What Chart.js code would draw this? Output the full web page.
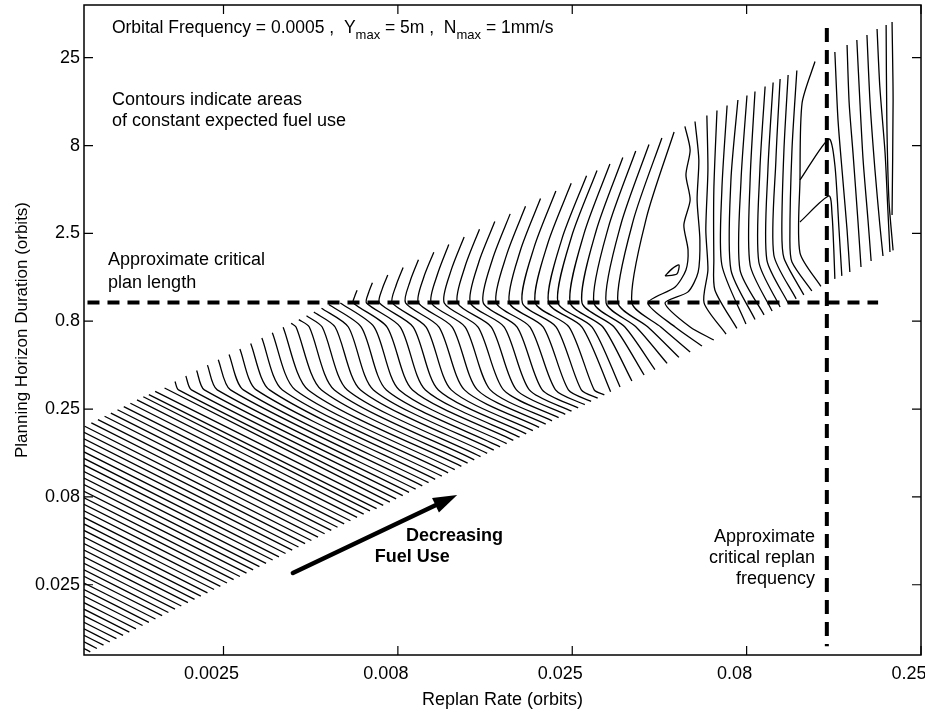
<!DOCTYPE html>
<html>
<head>
<meta charset="utf-8">
<script src="https://cdn.jsdelivr.net/npm/chart.js@4.4.1/dist/chart.umd.min.js"></script>
<style>
  html, body { margin: 0; padding: 0; background: #fff; }
</style>
</head>
<body>
<canvas id="chart" width="925" height="715"></canvas>
<script>
// axes are log10(orbits), labelled like the original
const rateTicks = [-2.6, -2.1, -1.6, -1.1, -0.6];
const rateLabels = ['0.0025', '0.008', '0.025', '0.08', '0.25'];
const horizonTicks = [-1.6, -1.1, -0.6, -0.1, 0.4, 0.9, 1.4];
const horizonLabels = ['0.025', '0.08', '0.25', '0.8', '2.5', '8', '25'];

// contours, each point is [log10 replan rate, log10 horizon]
// straight lower-left family
const hatchContours = [
  [[-3, -1.963], [-2.982, -1.982]],
  [[-3, -1.925], [-2.963, -1.963]],
  [[-3, -1.888], [-2.944, -1.944]],
  [[-3, -1.851], [-2.926, -1.926]],
  [[-3, -1.814], [-2.907, -1.907]],
  [[-3, -1.776], [-2.888, -1.888]],
  [[-3, -1.739], [-2.870, -1.870]],
  [[-3, -1.702], [-2.851, -1.851]],
  [[-3, -1.664], [-2.832, -1.832]],
  [[-3, -1.627], [-2.814, -1.814]],
  [[-3, -1.590], [-2.795, -1.795]],
  [[-3, -1.552], [-2.776, -1.776]],
  [[-3, -1.515], [-2.758, -1.758]],
  [[-3, -1.478], [-2.739, -1.739]],
  [[-3, -1.441], [-2.721, -1.721]],
  [[-3, -1.403], [-2.702, -1.702]],
  [[-3, -1.366], [-2.683, -1.683]],
  [[-3, -1.329], [-2.665, -1.665]],
  [[-3, -1.291], [-2.646, -1.646]],
  [[-3, -1.254], [-2.627, -1.627]],
  [[-3, -1.217], [-2.609, -1.609]],
  [[-3, -1.179], [-2.590, -1.590]],
  [[-3, -1.142], [-2.571, -1.571]],
  [[-3, -1.105], [-2.553, -1.553]],
  [[-3, -1.068], [-2.534, -1.534]],
  [[-3, -1.030], [-2.515, -1.515]],
  [[-3, -0.993], [-2.497, -1.497]],
  [[-3, -0.956], [-2.478, -1.478]],
  [[-3, -0.918], [-2.459, -1.459]],
  [[-3, -0.881], [-2.441, -1.441]],
  [[-3, -0.844], [-2.422, -1.422]],
  [[-3, -0.806], [-2.403, -1.403]],
  [[-3, -0.769], [-2.385, -1.385]],
  [[-3, -0.732], [-2.366, -1.366]],
  [[-2.998, -0.698], [-2.348, -1.348]],
  [[-2.979, -0.679], [-2.329, -1.329]],
  [[-2.960, -0.660], [-2.310, -1.310]],
  [[-2.941, -0.641], [-2.291, -1.291]],
  [[-2.923, -0.623], [-2.273, -1.273]],
  [[-2.904, -0.604], [-2.254, -1.254]],
  [[-2.886, -0.586], [-2.236, -1.236]],
  [[-2.867, -0.567], [-2.217, -1.217]],
  [[-2.848, -0.548], [-2.198, -1.198]],
  [[-2.830, -0.530], [-2.180, -1.180]]
];

// bending family that ends on the upper edge of the data band
const bandContours = [
  [[-2.161, -1.167], [-2.814, -0.518]],
  [[-2.142, -1.148], [-2.796, -0.499]],
  [[-2.123, -1.130], [-2.769, -0.480]],
  [[-2.105, -1.111], [-2.729, -0.491], [-2.739, -0.443]],
  [[-2.086, -1.093], [-2.692, -0.491], [-2.708, -0.412]],
  [[-2.068, -1.074], [-2.655, -0.491], [-2.677, -0.381]],
  [[-2.049, -1.056], [-2.618, -0.491], [-2.646, -0.350]],
  [[-2.030, -1.037], [-2.580, -0.491], [-2.615, -0.319]],
  [[-2.012, -1.019], [-2.543, -0.491], [-2.584, -0.289]],
  [[-1.993, -1.000], [-2.506, -0.491], [-2.553, -0.258]],
  [[-1.974, -0.982], [-2.468, -0.491], [-2.522, -0.227]],
  [[-1.956, -0.963], [-2.431, -0.491], [-2.490, -0.196]],
  [[-1.937, -0.945], [-2.394, -0.491], [-2.460, -0.165]],
  [[-1.918, -0.926], [-2.357, -0.491], [-2.429, -0.134]],
  [[-1.900, -0.908], [-2.319, -0.491], [-2.392, -0.133], [-2.406, -0.112]],
  [[-1.881, -0.889], [-2.282, -0.491], [-2.354, -0.133], [-2.384, -0.091]],
  [[-1.863, -0.871], [-2.245, -0.491], [-2.317, -0.133], [-2.362, -0.069]],
  [[-1.844, -0.852], [-2.207, -0.491], [-2.280, -0.133], [-2.341, -0.048]],
  [[-1.825, -0.834], [-2.170, -0.491], [-2.242, -0.133], [-2.319, -0.026]],
  [[-1.807, -0.815], [-2.133, -0.491], [-2.205, -0.133], [-2.298, -0.005]]
];

// family folding at the critical plan length
const planContours = [
  [[-1.788, -0.797], [-2.096, -0.491], [-2.168, -0.133], [-2.265, 0.004]],
  [[-1.769, -0.778], [-2.058, -0.491], [-2.131, -0.133], [-2.228, 0.004], [-2.224, 0.040], [-2.217, 0.076]],
  [[-1.751, -0.760], [-2.021, -0.491], [-2.093, -0.133], [-2.190, 0.004], [-2.184, 0.062], [-2.173, 0.119]],
  [[-1.732, -0.741], [-1.984, -0.491], [-2.056, -0.133], [-2.153, 0.004], [-2.145, 0.083], [-2.129, 0.163]],
  [[-1.713, -0.723], [-1.947, -0.491], [-2.019, -0.133], [-2.116, 0.004], [-2.105, 0.105], [-2.085, 0.206]],
  [[-1.695, -0.704], [-1.909, -0.491], [-1.982, -0.133], [-2.078, 0.004], [-2.065, 0.127], [-2.041, 0.250]],
  [[-1.676, -0.686], [-1.872, -0.491], [-1.944, -0.133], [-2.041, 0.004], [-2.026, 0.149], [-1.997, 0.293]],
  [[-1.658, -0.667], [-1.835, -0.491], [-1.907, -0.133], [-2.004, 0.004], [-1.986, 0.170], [-1.954, 0.337]],
  [[-1.639, -0.649], [-1.797, -0.491], [-1.870, -0.133], [-1.967, 0.004], [-1.947, 0.192], [-1.910, 0.380]],
  [[-1.620, -0.630], [-1.760, -0.491], [-1.832, -0.133], [-1.929, 0.004], [-1.907, 0.214], [-1.866, 0.424]],
  [[-1.602, -0.612], [-1.723, -0.491], [-1.795, -0.133], [-1.892, 0.004], [-1.868, 0.236], [-1.822, 0.467]],
  [[-1.583, -0.593], [-1.686, -0.491], [-1.758, -0.133], [-1.855, 0.004], [-1.828, 0.257], [-1.778, 0.511]],
  [[-1.564, -0.575], [-1.648, -0.491], [-1.721, -0.133], [-1.818, 0.004], [-1.788, 0.279], [-1.734, 0.554]],
  [[-1.546, -0.556], [-1.611, -0.491], [-1.683, -0.133], [-1.780, 0.004], [-1.749, 0.301], [-1.691, 0.598]],
  [[-1.527, -0.538], [-1.574, -0.491], [-1.646, -0.133], [-1.743, 0.004], [-1.709, 0.323], [-1.647, 0.641]],
  [[-1.508, -0.519], [-1.537, -0.491], [-1.609, -0.133], [-1.706, 0.004], [-1.670, 0.344], [-1.603, 0.685]],
  [[-1.490, -0.501], [-1.572, -0.133], [-1.668, 0.004], [-1.630, 0.366], [-1.559, 0.728]]
];

// family running up towards the critical replan rate
const replanContours = [
  [[-1.463, -0.474], [-1.543, -0.133], [-1.641, 0.004], [-1.602, 0.381], [-1.529, 0.758]],
  [[-1.429, -0.440], [-1.512, -0.133], [-1.606, 0.004], [-1.566, 0.400], [-1.492, 0.795]],
  [[-1.394, -0.406], [-1.480, -0.133], [-1.572, 0.004], [-1.531, 0.418], [-1.455, 0.832]],
  [[-1.363, -0.375], [-1.449, -0.133], [-1.538, 0.004], [-1.496, 0.437], [-1.418, 0.869]],
  [[-1.328, -0.340], [-1.417, -0.133], [-1.503, 0.004], [-1.460, 0.455], [-1.380, 0.906]],
  [[-1.294, -0.306], [-1.383, -0.133], [-1.469, 0.004], [-1.425, 0.474], [-1.343, 0.943]],
  [[-1.262, -0.275], [-1.346, -0.133], [-1.429, 0.004], [-1.387, 0.491], [-1.308, 0.977]],
  [[-1.228, -0.241], [-1.305, -0.133], [-1.383, 0.004], [-1.305, 0.095], [-1.274, 0.192], [-1.268, 0.306],
   [-1.280, 0.448], [-1.262, 0.590], [-1.274, 0.733], [-1.262, 0.875], [-1.277, 1.009]],
  [[-1.194, -0.207], [-1.262, -0.133], [-1.334, 0.004], [-1.268, 0.067], [-1.239, 0.180], [-1.234, 0.363],
   [-1.242, 0.590], [-1.237, 0.818], [-1.248, 1.037]],
  [[-1.159, -0.173], [-1.222, 0.004], [-1.211, 0.192], [-1.217, 0.419], [-1.211, 0.761], [-1.214, 1.071]],
  [[-1.128, -0.141], [-1.191, 0.078], [-1.194, 0.249], [-1.194, 0.647], [-1.185, 1.100]],
  [[-1.102, -0.116], [-1.171, 0.220], [-1.171, 0.647], [-1.156, 1.128]],
  [[-1.076, -0.090], [-1.145, 0.192], [-1.145, 0.704], [-1.125, 1.159]],
  [[-1.050, -0.064], [-1.119, 0.192], [-1.116, 0.704], [-1.099, 1.185]],
  [[-1.027, -0.042], [-1.090, 0.220], [-1.090, 0.704], [-1.076, 1.208]],
  [[-1.004, -0.019], [-1.065, 0.237], [-1.062, 0.761], [-1.047, 1.236]],
  [[-0.981, 0.004], [-1.042, 0.249], [-1.039, 0.761], [-1.024, 1.259]],
  [[-0.958, 0.027], [-1.022, 0.277], [-1.016, 0.818], [-1.004, 1.279]],
  [[-0.936, 0.050], [-0.993, 0.260], [-0.999, 0.419], [-0.993, 0.875], [-0.981, 1.302]],
  [[-0.913, 0.072], [-0.970, 0.237], [-0.976, 0.363], [-0.970, 0.875], [-0.956, 1.327]],
  [[-0.887, 0.098], [-0.947, 0.289], [-0.947, 0.704], [-0.941, 1.142], [-0.904, 1.378]]
];

// contours past the critical replan rate, plus the small closed one
const edgeContours = [
  [[-0.947, 0.704], [-0.864, 0.937], [-0.847, 0.789], [-0.835, 0.419], [-0.827, 0.158]],
  [[-0.947, 0.465], [-0.864, 0.613], [-0.855, 0.505], [-0.850, 0.306], [-0.847, 0.141]],
  [[-0.847, 1.433], [-0.838, 1.046], [-0.824, 0.704], [-0.812, 0.419], [-0.804, 0.180]],
  [[-0.812, 1.472], [-0.806, 1.142], [-0.795, 0.858], [-0.781, 0.476], [-0.772, 0.209]],
  [[-0.784, 1.501], [-0.775, 1.142], [-0.766, 0.818], [-0.752, 0.476], [-0.743, 0.243]],
  [[-0.755, 1.529], [-0.746, 1.142], [-0.732, 0.761], [-0.718, 0.448], [-0.709, 0.271]],
  [[-0.726, 1.563], [-0.718, 1.233], [-0.703, 0.858], [-0.695, 0.533], [-0.689, 0.294]],
  [[-0.700, 1.586], [-0.698, 1.046], [-0.692, 0.590], [-0.680, 0.303]],
  [[-0.683, 1.603], [-0.680, 1.159], [-0.683, 0.505]],
  [[-1.334, 0.158], [-1.314, 0.198], [-1.294, 0.220], [-1.300, 0.169], [-1.334, 0.158]]
];

const criticalPlanLength = [[-2.99, 0.007], [-0.723, 0.007]];
const criticalReplanRate = [[-0.870, 1.569], [-0.870, -1.95]];
const fuelArrow = [[-2.401, -1.533], [-1.930, -1.089]];

const FONT = '"Liberation Sans", Arial, Helvetica, sans-serif';

function toXY(points) {
  return points.map(p => ({ x: p[0], y: p[1] }));
}

const allContours = [].concat(hatchContours, bandContours, planContours, replanContours, edgeContours);

const datasets = allContours.map(c => ({
  data: toXY(c),
  showLine: true,
  borderColor: '#000',
  borderWidth: 1.3,
  pointRadius: 0,
  tension: 0.25
}));

datasets.push({
  data: toXY(criticalPlanLength),
  order: -1,
  showLine: true, borderColor: '#000', borderWidth: 4,
  borderDash: [12, 8], borderCapStyle: 'butt', pointRadius: 0
});
datasets.push({
  data: toXY(criticalReplanRate),
  order: -1,
  showLine: true, borderColor: '#000', borderWidth: 4,
  borderDash: [14, 8], borderCapStyle: 'butt', pointRadius: 0
});

// extra drawing: frame, inward ticks, notes, arrow
const decor = {
  id: 'decor',
  afterDraw(chart) {
    const { ctx, chartArea: a } = chart;
    const xs = chart.scales.x, ys = chart.scales.y;
    ctx.save();
    ctx.strokeStyle = '#000';
    ctx.fillStyle = '#000';
    ctx.lineWidth = 1.5;
    ctx.strokeRect(a.left, a.top, a.right - a.left, a.bottom - a.top);

    ctx.lineWidth = 1.2;
    rateTicks.forEach(v => {
      const px = xs.getPixelForValue(v);
      ctx.beginPath();
      ctx.moveTo(px, a.bottom); ctx.lineTo(px, a.bottom - 9);
      ctx.moveTo(px, a.top); ctx.lineTo(px, a.top + 9);
      ctx.stroke();
    });
    horizonTicks.forEach(v => {
      const py = ys.getPixelForValue(v);
      ctx.beginPath();
      ctx.moveTo(a.left, py); ctx.lineTo(a.left + 9, py);
      ctx.moveTo(a.right, py); ctx.lineTo(a.right - 9, py);
      ctx.stroke();
    });

    const X = v => xs.getPixelForValue(v);
    const Y = v => ys.getPixelForValue(v);

    // heading with subscripts
    ctx.textBaseline = 'middle';
    ctx.textAlign = 'left';
    let hx = X(-2.920);
    const hy = Y(1.569);
    const parts = [
      ['Orbital Frequency = 0.0005 ,  Y', 0],
      ['max', 1],
      [' = 5m ,  N', 0],
      ['max', 1],
      [' = 1mm/s', 0]
    ];
    parts.forEach(([t, sub]) => {
      ctx.font = (sub ? '13px ' : '17.5px ') + FONT;
      ctx.fillText(t, hx, hy + (sub ? 7 : 0));
      hx += ctx.measureText(t).width;
    });

    ctx.font = '18px ' + FONT;
    ctx.fillText('Contours indicate areas', X(-2.920), Y(1.159));
    ctx.fillText('of constant expected fuel use', X(-2.920), Y(1.040));
    ctx.fillText('Approximate critical', X(-2.931), Y(0.249));
    ctx.fillText('plan length', X(-2.931), Y(0.118));

    ctx.textAlign = 'right';
    ctx.fillText('Approximate', X(-0.904), Y(-1.328));
    ctx.fillText('critical replan', X(-0.904), Y(-1.447));
    ctx.fillText('frequency', X(-0.904), Y(-1.567));

    ctx.textAlign = 'left';
    ctx.font = 'bold 18px ' + FONT;
    ctx.fillText('Decreasing', X(-2.077), Y(-1.322));
    ctx.fillText('Fuel Use', X(-2.166), Y(-1.442));

    // arrow
    const x0 = X(fuelArrow[0][0]), y0 = Y(fuelArrow[0][1]);
    const x1 = X(fuelArrow[1][0]), y1 = Y(fuelArrow[1][1]);
    const ang = Math.atan2(y1 - y0, x1 - x0);
    const head = 24, half = 8;
    const bx = x1 - head * Math.cos(ang), by = y1 - head * Math.sin(ang);
    ctx.lineWidth = 4.5;
    ctx.lineCap = 'round';
    ctx.beginPath();
    ctx.moveTo(x0, y0); ctx.lineTo(bx, by);
    ctx.stroke();
    ctx.beginPath();
    ctx.moveTo(x1, y1);
    ctx.lineTo(bx + half * Math.sin(ang), by - half * Math.cos(ang));
    ctx.lineTo(bx - half * Math.sin(ang), by + half * Math.cos(ang));
    ctx.closePath();
    ctx.fill();
    ctx.restore();
  }
};

new Chart(document.getElementById('chart'), {
  type: 'scatter',
  data: { datasets },
  options: {
    responsive: false,
    animation: false,
    events: [],
    layout: { padding: { top: 5, right: 4, left: 0, bottom: 0 } },
    plugins: { legend: { display: false }, tooltip: { enabled: false } },
    scales: {
      x: {
        type: 'linear', min: -3, max: -0.6,
        grid: { display: false, drawTicks: false },
        border: { display: false },
        afterBuildTicks: s => { s.ticks = rateTicks.map(v => ({ value: v })); },
        afterFit: s => { s.height = 60; s.paddingLeft = 0; s.paddingRight = 0; },
        ticks: {
          callback: (v, i) => rateLabels[i],
          autoSkip: false, maxRotation: 0, padding: 8, labelOffset: -12,
          color: '#000', font: { family: FONT, size: 18 }
        },
        title: {
          display: true, text: 'Replan Rate (orbits)', color: '#000',
          font: { family: FONT, size: 18 }, padding: { top: 0, bottom: 4 }
        }
      },
      y: {
        type: 'linear', min: -2, max: 1.7,
        grid: { display: false, drawTicks: false },
        border: { display: false },
        afterBuildTicks: s => { s.ticks = horizonTicks.map(v => ({ value: v })); },
        afterFit: s => { s.width = 84; s.paddingTop = 0; s.paddingBottom = 0; },
        ticks: {
          callback: (v, i) => horizonLabels[i],
          autoSkip: false, padding: 4,
          color: '#000', font: { family: FONT, size: 18 }
        },
        title: {
          display: true, text: 'Planning Horizon Duration (orbits)', color: '#000',
          font: { family: FONT, size: 17 }, padding: { top: 12, bottom: 0 }
        }
      }
    }
  },
  plugins: [decor]
});
</script>
</body>
</html>
